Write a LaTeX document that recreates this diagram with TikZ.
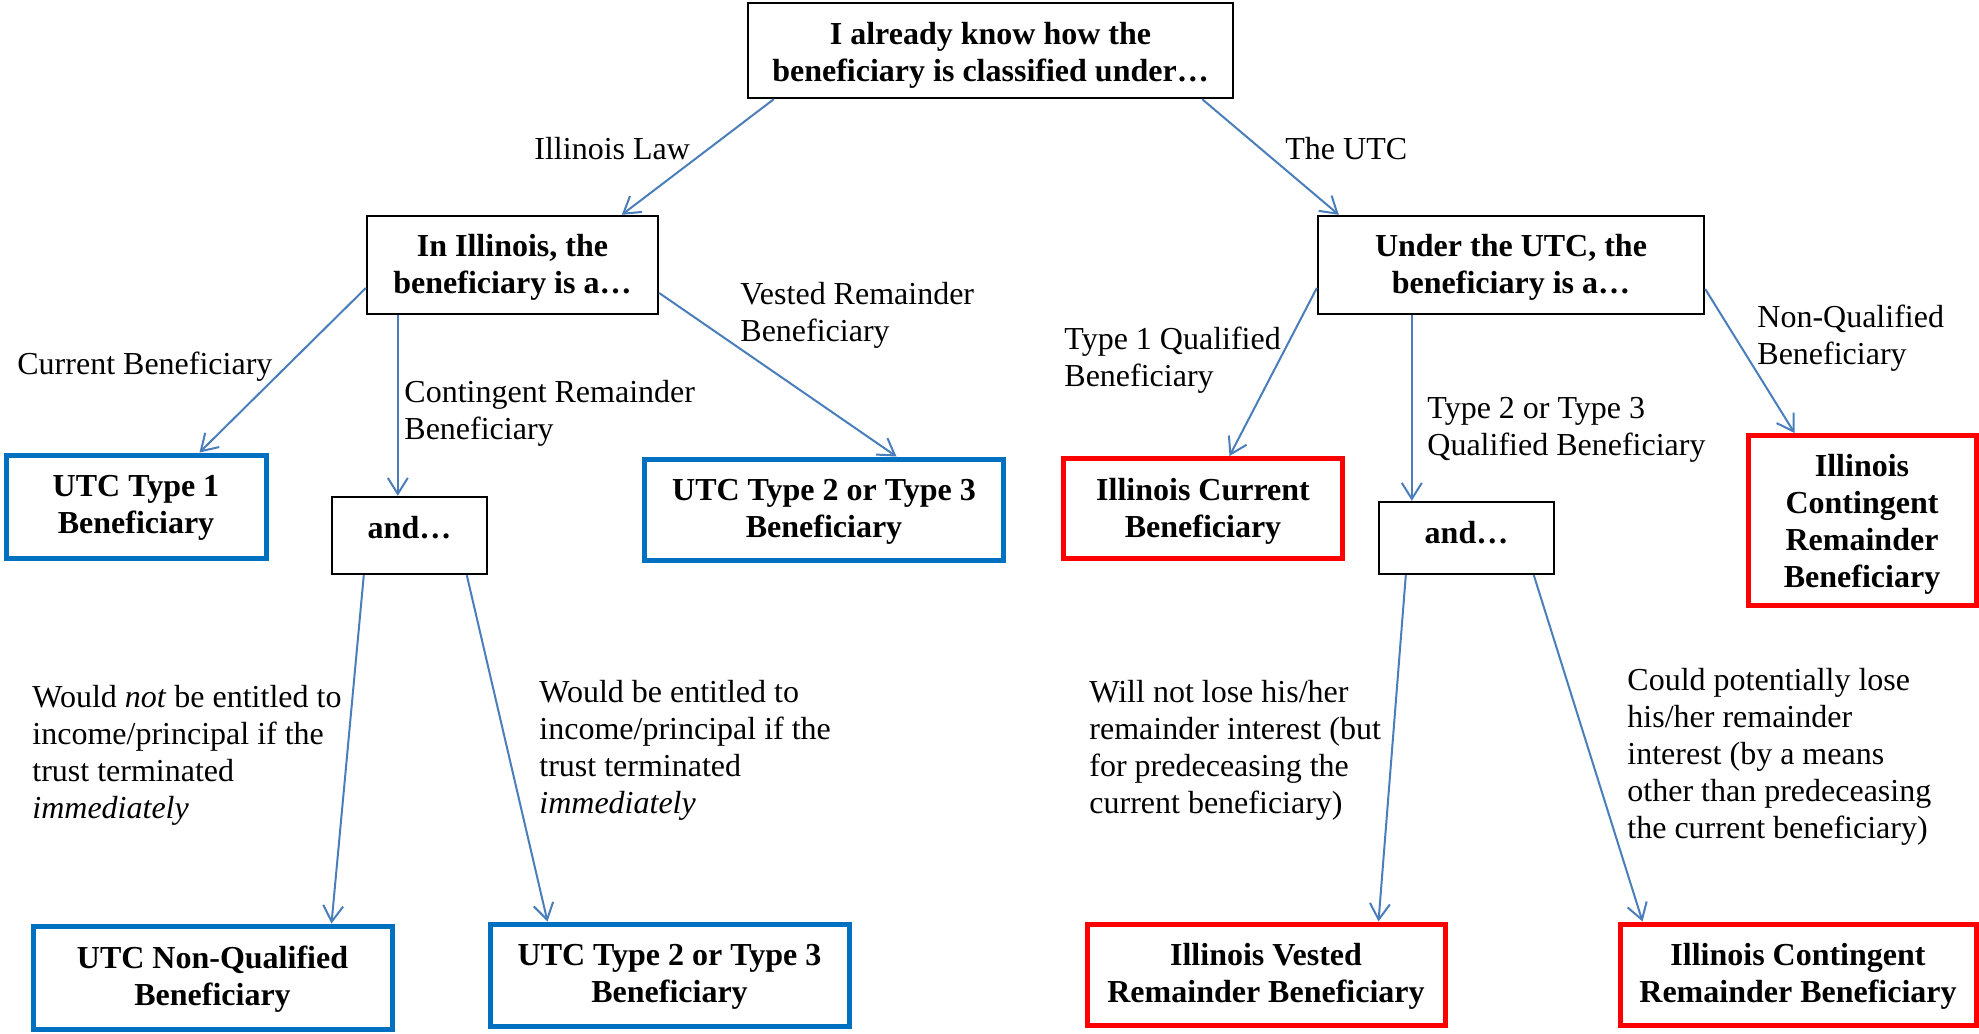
\documentclass[tikz,border=0pt]{standalone}
\usepackage{fontspec}
\setmainfont{Liberation Serif}
\usetikzlibrary{arrows.meta,calc}
\definecolor{arrowblue}{HTML}{4A7EBB}
\definecolor{boxblue}{HTML}{0070C0}
\definecolor{boxred}{HTML}{FF0000}
\begin{document}
\begin{tikzpicture}[x=0.5pt,y=-0.5pt,
  every node/.style={font=\fontsize{16}{18.5}\selectfont},
  qbox/.style={draw=black,line width=1.2pt,fill=white,inner sep=0pt},
  bluebox/.style={qbox,draw=boxblue,line width=2.5pt},
  redbox/.style={qbox,draw=boxred,line width=2.5pt},
  boxtxt/.style={align=center,inner sep=0pt,font=\fontsize{16}{18.5}\selectfont\bfseries},
  lbl/.style={align=left,inner sep=0pt,anchor=west},
  conn/.style={draw=arrowblue,line width=1pt,-{Straight Barb[length=8pt,width=10pt]}}
]
\useasboundingbox (0,0) rectangle (1979,1033);

% boxes
\node[qbox,minimum width=242.5pt,minimum height=47.5pt] (top) at (990.5,50.5) {};
\node[qbox,minimum width=145.5pt,minimum height=49pt] (ill) at (512.5,265) {};
\node[qbox,minimum width=193pt,minimum height=49pt] (utc) at (1511,265) {};
\node[bluebox,minimum width=130pt,minimum height=51.5pt] (utc1) at (136,506.5) {};
\node[qbox,minimum width=77.5pt,minimum height=38.5pt] (andL) at (409.5,535.5) {};
\node[bluebox,minimum width=179.5pt,minimum height=50.5pt] (utc23a) at (824,509.5) {};
\node[redbox,minimum width=139.5pt,minimum height=50pt] (ilcur) at (1203,508.5) {};
\node[qbox,minimum width=87.5pt,minimum height=36pt] (andR) at (1466.5,538) {};
\node[redbox,minimum width=114pt,minimum height=85pt] (ilcont) at (1862,520.5) {};
\node[bluebox,minimum width=179.5pt,minimum height=51.5pt] (utcnq) at (212.5,977.5) {};
\node[bluebox,minimum width=179.5pt,minimum height=51pt] (utc23b) at (669.5,975) {};
\node[redbox,minimum width=179pt,minimum height=50.5pt] (ilvest) at (1266,974.5) {};
\node[redbox,minimum width=178pt,minimum height=50.5pt] (ilcontb) at (1798,974.5) {};

% box texts
\node[boxtxt] (topt) at ($(top)+(0,5)$) {I already know how the\\beneficiary is classified under…};
\node[boxtxt] (illt) at ($(ill)+(0,2.5)$) {In Illinois, the\\beneficiary is a…};
\node[boxtxt] (utct) at ($(utc)+(0,2.5)$) {Under the UTC, the\\beneficiary is a…};
\node[boxtxt] (utc1t) at ($(utc1)+(0,1)$) {UTC Type 1\\Beneficiary};
\node[boxtxt] (andLt) at ($(andL)+(0,-8)$) {and…};
\node[boxtxt] (utc23at) at ($(utc23a)+(0,2)$) {UTC Type 2 or Type 3\\Beneficiary};
\node[boxtxt] (ilcurt) at ($(ilcur)+(0,3)$) {Illinois Current\\Beneficiary};
\node[boxtxt] (andRt) at ($(andR)+(0,-5)$) {and…};
\node[boxtxt] (ilcontt) at ($(ilcont)+(0,4)$) {Illinois\\Contingent\\Remainder\\Beneficiary};
\node[boxtxt] (utcnqt) at ($(utcnq)+(0,2)$) {UTC Non-Qualified\\Beneficiary};
\node[boxtxt] (utc23bt) at ($(utc23b)+(0,2)$) {UTC Type 2 or Type 3\\Beneficiary};
\node[boxtxt] (ilvestt) at ($(ilvest)+(0,2)$) {Illinois Vested\\Remainder Beneficiary};
\node[boxtxt] (ilcontbt) at ($(ilcontb)+(0,2)$) {Illinois Contingent\\Remainder Beneficiary};

% labels
\node[lbl] (lIL) at (534,149) {Illinois Law};
\node[lbl] (lUTC) at (1285,149) {The UTC};
\node[lbl] (lcur) at (17,366.5) {Current Beneficiary};
\node[lbl] (lcont) at (404,413) {Contingent Remainder\\Beneficiary};
\node[lbl] (lvest) at (740,315) {Vested Remainder\\Beneficiary};
\node[lbl] (lt1) at (1064,360) {Type 1 Qualified\\Beneficiary};
\node[lbl] (lt23) at (1427,430) {Type 2 or Type 3\\Qualified Beneficiary};
\node[lbl] (lnq) at (1757,338) {Non-Qualified\\Beneficiary};
\node[lbl] (lwn) at (32,755.5) {Would \textit{not} be entitled to\\income/principal if the\\trust terminated\\\textit{immediately}};
\node[lbl] (lw) at (539,750.5) {Would be entitled to\\income/principal if the\\trust terminated\\\textit{immediately}};
\node[lbl] (lwill) at (1089,750.5) {Will not lose his/her\\remainder interest (but\\for predeceasing the\\current beneficiary)};
\node[lbl] (lcould) at (1627,756.5) {Could potentially lose\\his/her remainder\\interest (by a means\\other than predeceasing\\the current beneficiary)};

% connectors
\draw[conn] ($(top.south west)+(27,0)$) -- ($(ill.north west)+(256,0)$);
\draw[conn] ($(top.south east)+(-32,0)$) -- ($(utc.north west)+(22,0)$);
\draw[conn] ($(ill.west)+(0,23)$) -- ($(utc1.north west)+(196,0)$);
\draw[conn] ($(ill.south west)+(32,0)$) -- ($(andL.north west)+(67,0)$);
\draw[conn] ($(ill.east)+(0,28)$) -- ($(utc23a.north west)+(254.5,0)$);
\draw[conn] ($(utc.west)+(0,23)$) -- ($(ilcur.north west)+(168.5,0)$);
\draw[conn] ($(utc.south west)+(95,0)$) -- ($(andR.north west)+(34,0)$);
\draw[conn] ($(utc.east)+(0,24)$) -- ($(ilcont.north west)+(49,0)$);
\draw[conn] ($(andL.south west)+(33,0)$) -- ($(utcnq.north west)+(301,0)$);
\draw[conn] ($(andL.south west)+(136,0)$) -- ($(utc23b.north west)+(60,0)$);
\draw[conn] ($(andR.south west)+(28,0)$) -- ($(ilvest.north west)+(294,0)$);
\draw[conn] ($(andR.south west)+(156,0)$) -- ($(ilcontb.north west)+(25,0)$);
\end{tikzpicture}
\end{document}
